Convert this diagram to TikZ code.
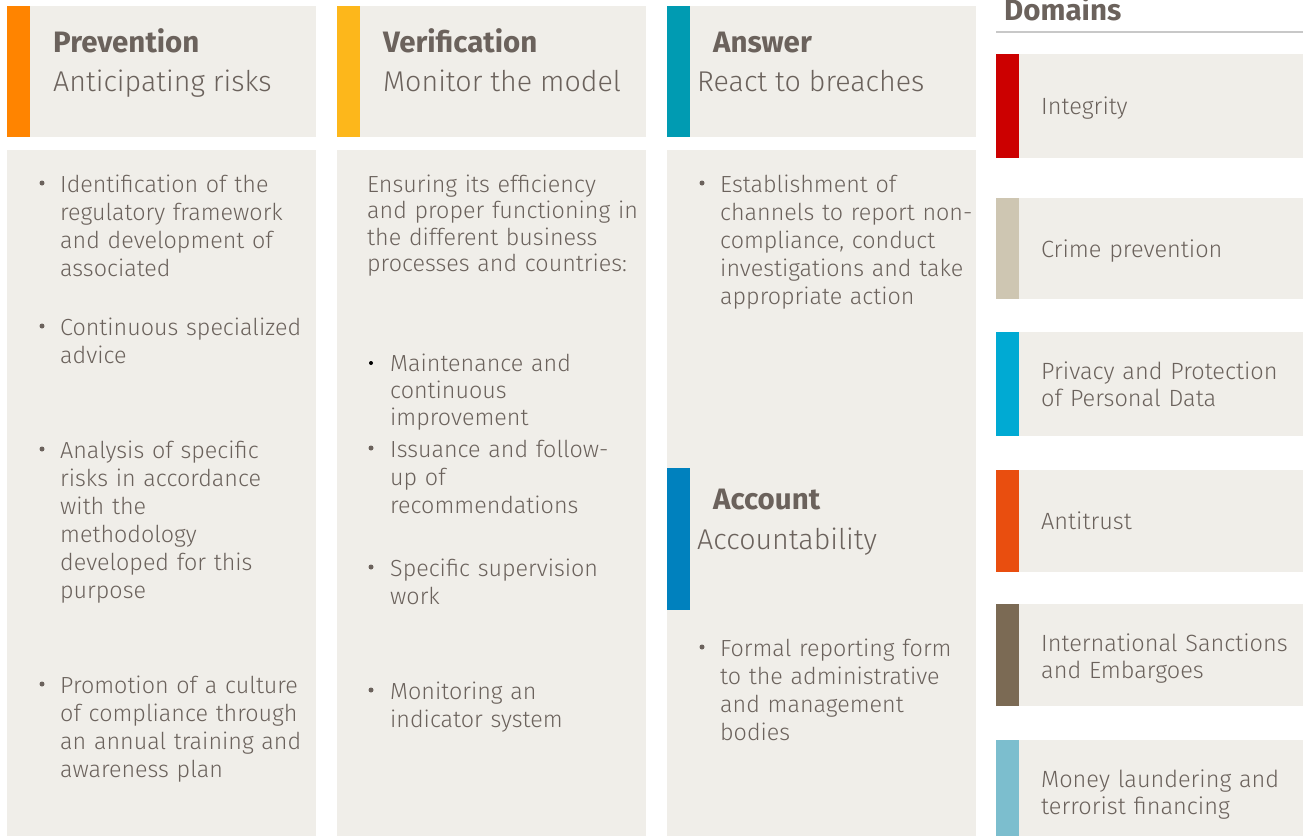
\documentclass[tikz,border=0pt]{standalone}
\usepackage{fontspec}
\setmainfont{Fira Sans}[UprightFont={* Light},BoldFont={* Bold}]
\definecolor{boxgray}{HTML}{F0EEE9}
\definecolor{txt}{HTML}{6B625C}
\definecolor{cprev}{HTML}{FF8400}
\definecolor{cver}{HTML}{FDB71B}
\definecolor{cans}{HTML}{009BB2}
\definecolor{cacc}{HTML}{0081BE}
\definecolor{cint}{HTML}{CC0000}
\definecolor{ccrime}{HTML}{CEC6B2}
\definecolor{cpriv}{HTML}{00AAD3}
\definecolor{canti}{HTML}{E94E0F}
\definecolor{csanc}{HTML}{7B6A54}
\definecolor{cmoney}{HTML}{7CBECE}
\definecolor{rulegray}{HTML}{C8C8C8}
\begin{document}
\begin{tikzpicture}[x=1pt,y=-1pt,
  panel/.style={fill=boxgray},
  ttl/.style={anchor=base west,inner sep=0pt,text=txt,font=\fontsize{29.5}{32}\selectfont\bfseries},
  sub/.style={anchor=base west,inner sep=0pt,text=txt,font=\fontsize{28.6}{32}\selectfont},
  body/.style={anchor=base west,inner sep=0pt,text=txt,text width=320pt,align=left,font=\fontsize{23.3}{28}\selectfont},
  dom/.style={anchor=base west,inner sep=0pt,text=txt,text width=300pt,align=left,font=\fontsize{23.5}{27}\selectfont},
  bul/.style={circle,fill=txt,inner sep=0pt,minimum size=5pt},
  bulk/.style={circle,fill=black,inner sep=0pt,minimum size=4pt}]
\useasboundingbox (0,0) rectangle (1303,836);
% header panels
\fill[panel] (7,6) rectangle (316,137);
\fill[cprev] (7,6) rectangle (30,137);
\fill[panel] (337,6) rectangle (646,137);
\fill[cver] (337,6) rectangle (360,137);
\fill[panel] (667,6) rectangle (976,137);
\fill[cans] (667,6) rectangle (690,137);
% body panels
\fill[panel] (7,150) rectangle (316,836);
\fill[panel] (337,150) rectangle (646,836);
\fill[panel] (667,150) rectangle (976,836);
\fill[cacc] (667,468) rectangle (690,610);
% domain panels
\fill[panel] (996,54) rectangle (1303,158);
\fill[cint] (996,54) rectangle (1019,158);
\fill[panel] (996,198) rectangle (1303,299);
\fill[ccrime] (996,198) rectangle (1019,299);
\fill[panel] (996,332) rectangle (1303,436);
\fill[cpriv] (996,332) rectangle (1019,436);
\fill[panel] (996,470) rectangle (1303,572);
\fill[canti] (996,470) rectangle (1019,572);
\fill[panel] (996,604) rectangle (1303,706);
\fill[csanc] (996,604) rectangle (1019,706);
\fill[panel] (996,740) rectangle (1303,836);
\fill[cmoney] (996,740) rectangle (1019,836);
\draw[rulegray,line width=1.5pt] (996,32) -- (1303,32);
% headers
\node[ttl] (t1) at (53,52) {Prevention};
\node[sub] (s1) at (53,91) {Anticipating risks};
\node[ttl] (t2) at (383,52) {Verification};
\node[sub] (s2) at (383,91) {Monitor the model};
\node[ttl] (t3) at (713,52) {Answer};
\node[sub] (s3) at (697,91) {React to breaches};
\node[ttl] (t4) at (713,509) {Account};
\node[sub] (s4) at (697,549) {Accountability};
\node[ttl] (t5) at (1004,20) {Domains};
% prevention body
\node[bul] (b11) at (42,183) {};
\node[body] (p11) at (60,192) {Identification of the\\regulatory framework\\and development of\\associated};
\node[bul] (b12) at (42,326) {};
\node[body] (p12) at (60,335) {Continuous specialized\\advice};
\node[bul] (b13) at (42,449) {};
\node[body] (p13) at (60,458) {Analysis of specific\\risks in accordance\\with the\\methodology\\developed for this\\purpose};
\node[bul] (b14) at (42,684) {};
\node[body] (p14) at (60,693) {Promotion of a culture\\of compliance through\\an annual training and\\awareness plan};
% verification body
\node[body,font=\fontsize{23.3}{26.5}\selectfont] (v0) at (367,192) {Ensuring its efficiency\\and proper functioning in\\the different business\\processes and countries:};
\node[bulk] (b21) at (371,363) {};
\node[body,font=\fontsize{23.3}{27}\selectfont] (v1) at (390,371) {Maintenance and\\continuous\\improvement};
\node[bul] (b22) at (371,448) {};
\node[body] (v2) at (390,457) {Issuance and follow-\\up of\\recommendations};
\node[bul] (b23) at (371,567) {};
\node[body] (v3) at (390,576) {Specific supervision\\work};
\node[bul] (b24) at (371,690) {};
\node[body] (v4) at (390,699) {Monitoring an\\indicator system};
% answer body
\node[bul] (b31) at (702,183) {};
\node[body] (a1) at (720,192) {Establishment of\\channels to report non-\\compliance, conduct\\investigations and take\\appropriate action};
\node[bul] (b32) at (702,647) {};
\node[body] (a2) at (720,656) {Formal reporting form\\to the administrative\\and management\\bodies};
% domains
\node[dom] (d1) at (1041,114) {Integrity};
\node[dom] (d2) at (1041,257) {Crime prevention};
\node[dom] (d3) at (1041,379) {Privacy and Protection\\of Personal Data};
\node[dom] (d4) at (1041,529) {Antitrust};
\node[dom] (d5) at (1041,651) {International Sanctions\\and Embargoes};
\node[dom] (d6) at (1041,787) {Money laundering and\\terrorist financing};
\end{tikzpicture}
\end{document}
